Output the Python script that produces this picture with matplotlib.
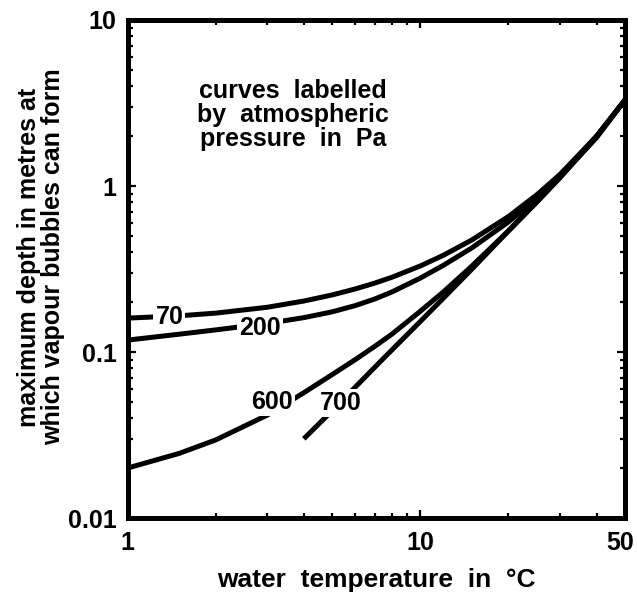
import numpy as np
import matplotlib
matplotlib.use("Agg")
import matplotlib.pyplot as plt
import matplotlib.transforms as mtransforms
from matplotlib.ticker import FixedLocator, LogLocator, NullFormatter

plt.rcParams['font.family'] = ['Liberation Sans', 'DejaVu Sans']
plt.rcParams['font.weight'] = 'bold'
plt.rcParams['axes.labelweight'] = 'bold'

# water temperature (deg C) and max depth (m) for each atmospheric pressure
temp = [1, 1.5, 2, 3, 4, 5, 6, 7, 8, 10, 12, 15, 20, 25, 30, 40, 50]
depth_70 = [0.1600, 0.1652, 0.1715, 0.1860, 0.2028, 0.2207, 0.2399, 0.2604,
            0.2821, 0.3299, 0.3830, 0.4734, 0.6552, 0.8857, 1.175, 2.000, 3.3]
depth_200 = [0.1180, 0.1280, 0.1359, 0.1486, 0.1611, 0.1746, 0.1905, 0.2089,
             0.2301, 0.2788, 0.3332, 0.4240, 0.6074, 0.8396, 1.134, 1.960, 3.3]
depth_600 = [0.0200, 0.02449, 0.02953, 0.04169, 0.05685, 0.07315, 0.0901,
             0.1084, 0.1282, 0.1761, 0.2306, 0.3296, 0.5373, 0.8027, 1.131,
             1.999, 3.3]
temp_700 = [4, 5, 6, 7, 8, 10, 12, 15, 20, 25, 30, 40, 50]
depth_700 = [0.0300, 0.04431, 0.06155, 0.08122, 0.1030, 0.1528, 0.2115,
             0.3160, 0.5364, 0.8014, 1.123, 1.985, 3.3]

pressures = ['70', '200', '600', '700']
# where each pressure label sits on its curve
label_temp = [1.39, 2.84, 3.12, 5.33]
label_depth = [0.162, 0.140, 0.050, 0.0493]

fig = plt.figure(figsize=(6.37, 5.97), dpi=100)
ax = fig.add_axes([0.2002, 0.1323, 0.7810, 0.8342])

curves = [(temp, depth_70), (temp, depth_200), (temp, depth_600), (temp_700, depth_700)]
for (t, d) in curves:
    ax.plot(t, d, color='black', lw=3.6, solid_capstyle='butt', solid_joinstyle='round')

for p, lt, ld in zip(pressures, label_temp, label_depth):
    ax.text(lt, ld, p, fontsize=18, ha='center', va='center', zorder=5,
            bbox=dict(facecolor='white', edgecolor='none', pad=1.5))

ax.text(0.333, 0.809, "curves  labelled\nby  atmospheric\npressure  in  Pa",
        transform=ax.transAxes, fontsize=18, ha='center', va='center',
        multialignment='center', linespacing=1.0)

ax.set_xscale('log')
ax.set_yscale('log')
ax.set_xlim(1, 50)
ax.set_ylim(0.01, 10)

ax.xaxis.set_major_locator(FixedLocator([1, 10, 50]))
ax.set_xticklabels(['1', '10', '50'])
ax.xaxis.set_minor_locator(FixedLocator([2, 3, 4, 5, 6, 7, 8, 9, 20, 30, 40]))
ax.xaxis.set_minor_formatter(NullFormatter())
ax.yaxis.set_major_locator(FixedLocator([0.01, 0.1, 1, 10]))
ax.set_yticklabels(['0.01', '0.1', '1', '10'])
ax.yaxis.set_minor_locator(LogLocator(base=10, subs=np.arange(2, 10)))
ax.yaxis.set_minor_formatter(NullFormatter())

ax.tick_params(which='both', direction='in', top=True, right=True, labelsize=18)
ax.tick_params(which='major', length=6, width=1.6)
ax.tick_params(which='minor', length=3.5, width=1.6)
ax.tick_params(axis='x', which='major', pad=9)
ax.tick_params(axis='y', which='major', pad=8)
for s in ax.spines.values():
    s.set_linewidth(3.6)

# pull the "50" label in a little so it stays on the canvas
lbl50 = ax.get_xticklabels()[2]
lbl50.set_transform(lbl50.get_transform() +
                    mtransforms.ScaledTranslation(-0.05, 0, fig.dpi_scale_trans))

ax.set_xlabel("water  temperature  in  \u00b0C", fontsize=19, fontweight='bold')
ax.xaxis.set_label_coords(0.5, -0.1)
ax.set_ylabel("maximum depth in metres at\nwhich vapour bubbles can form",
              fontsize=18, fontweight='bold', linespacing=1.0)
ax.yaxis.set_label_coords(-0.174, 0.524)
ax.yaxis.label.set_va('center')

fig.savefig('out.png', dpi=100)
